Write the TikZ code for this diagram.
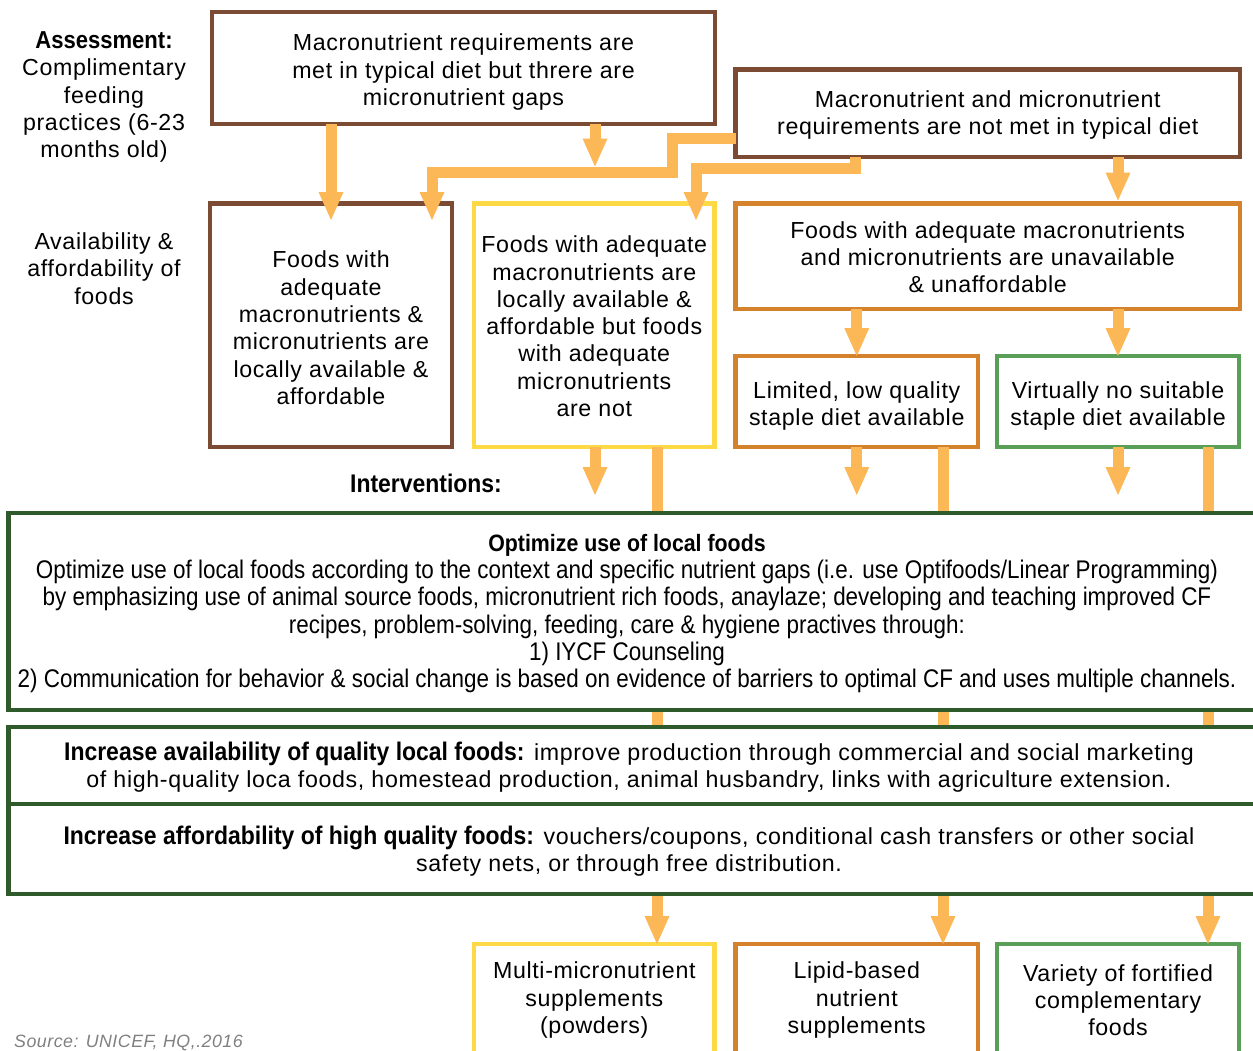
\documentclass[tikz,border=0pt]{standalone}
\usepackage{fontspec}
\setmainfont{Liberation Sans}[LetterSpace=2.8]
\newfontfamily\condf{Liberation Sans}[FakeStretch=0.88]
\newfontfamily\condb{Liberation Sans}[FakeStretch=0.9]
\usetikzlibrary{arrows.meta}
\definecolor{brn}{HTML}{7B4B33}
\definecolor{yel}{HTML}{FDDA45}
\definecolor{org}{HTML}{D5822C}
\definecolor{grn}{HTML}{5A9F58}
\definecolor{dgrn}{HTML}{2F5A2B}
\definecolor{arr}{HTML}{FCB857}
\newcommand\tstrut[1]{\rule{0pt}{#1pt}}
\begin{document}
\begin{tikzpicture}[x=1pt,y=-1pt,
  box/.style={draw, line width=4.5pt, fill=white, inner sep=0pt, outer sep=0pt,
    align=center, font=\fontsize{23.2}{27.3}\selectfont},
  ibox/.style={draw=dgrn, line width=4.5pt, fill=white, inner sep=0pt, outer sep=0pt, anchor=north west},
  lbl/.style={align=center, inner sep=0pt, font=\fontsize{23.2}{27.3}\selectfont},
  conn/.style={draw=arr, line width=11pt, -{Triangle[width=25pt,length=28pt,line width=0pt]}},
]
\useasboundingbox (0,0) rectangle (1253,1050);
% left labels
\node[lbl] (assess) at (104,97) {{\condb\bfseries\fontsize{24.5}{27.3}\selectfont Assessment:}\\Complimentary\\feeding\\practices (6-23\\months old)};
\node[lbl] (avail) at (104,268.5) {Availability \&\\affordability of\\foods};
\node[lbl, font=\condb\bfseries\fontsize{25.5}{27.3}\selectfont] (interv) at (426,483.5) {Interventions:};
% top boxes
\node[box, draw=brn, minimum width=503pt, minimum height=112pt] (A) at (463.5,68)
  {\tstrut{25}Macronutrient requirements are\\met in typical diet but threre are\\micronutrient gaps};
\node[box, draw=brn, minimum width=504.5pt, minimum height=87.5pt] (B) at (987.75,113.25)
  {\tstrut{21}Macronutrient and micronutrient\\requirements are not met in typical diet};
\node[box, draw=brn, minimum width=242pt, minimum height=243.5pt] (C) at (331,325.25)
  {\tstrut{22}Foods with\\adequate\\macronutrients \&\\micronutrients are\\locally available \&\\affordable};
\node[box, draw=yel, minimum width=240.7pt, minimum height=243.5pt] (D) at (594.3,325.25)
  {\tstrut{19}Foods with adequate\\macronutrients are\\locally available \&\\affordable but foods\\with adequate\\micronutrients\\are not};
\node[box, draw=org, minimum width=504.5pt, minimum height=105.5pt] (E) at (987.75,256.25)
  {\tstrut{19}Foods with adequate macronutrients\\and micronutrients are unavailable\\\& unaffordable};
\node[box, draw=org, minimum width=242.5pt, minimum height=91pt] (F) at (856.75,401.5)
  {\tstrut{26}Limited, low quality\\staple diet available};
\node[box, draw=grn, minimum width=242pt, minimum height=91pt] (G) at (1118,401.5)
  {\tstrut{26}Virtually no suitable\\staple diet available};
% bottom boxes
\node[box, draw=yel, minimum width=240.7pt, minimum height=112pt] (K) at (594.3,1000)
  {Multi-micronutrient\\supplements\\(powders)};
\node[box, draw=org, minimum width=242.5pt, minimum height=112pt] (L) at (856.75,1000)
  {Lipid-based\\nutrient\\supplements};
\node[box, draw=grn, minimum width=242pt, minimum height=112pt] (M) at (1118,1000)
  {Variety of fortified\\complementary\\foods};
% long connectors behind intervention boxes
\draw[conn] (D.south -| 657,0) -- (K.north -| 657,0);
\draw[conn] (F.south -| 943,0) -- (L.north -| 943,0);
\draw[conn] (G.south -| 1208,0) -- (M.north -| 1208,0);
% intervention boxes
\node[ibox, minimum width=1254pt, minimum height=197pt] (H) at (8.3,513) {};
\node[ibox, minimum width=1254pt, minimum height=77pt] (I) at (8.3,727) {};
\node[ibox, minimum width=1254pt, minimum height=90pt] (J) at (8.3,804) {};
\node[lbl, font=\condf\fontsize{25.5}{27.3}\selectfont] (Ht) at (627,613.5)
  {{\condb\bfseries\fontsize{23.7}{27.3}\selectfont Optimize use of local foods}\\
   Optimize use of local foods according to the context and specific nutrient gaps (i.e. use Optifoods/Linear Programming)\\
   by emphasizing use of animal source foods, micronutrient rich foods, anaylaze; developing and teaching improved CF\\
   recipes, problem-solving, feeding, care \& hygiene practives through:\\
   1) IYCF Counseling\\
   2) Communication for behavior \& social change is based on evidence of barriers to optimal CF and uses multiple channels.};
\node[lbl] (It) at (629,767.5)
  {{\condb\bfseries\fontsize{25.5}{27.3}\selectfont Increase availability of quality local foods:} improve production through commercial and social marketing\\
   of high-quality loca foods, homestead production, animal husbandry, links with agriculture extension.};
\node[lbl] (Jt) at (629,851)
  {{\condb\bfseries\fontsize{25.5}{27.3}\selectfont Increase affordability of high quality foods:} vouchers/coupons, conditional cash transfers or other social\\
   safety nets, or through free distribution.};
% free ends
\coordinate (j1) at (595,166.5);
\coordinate (t1) at (595,495);
\coordinate (t2) at (856.75,495);
\coordinate (t3) at (1118,495);
% connectors
\draw[conn, shorten >=-16.5pt] (A.south -| 331,0) -- (C.north -| 331,0);
\draw[conn] (A.south -| j1) -- (j1);
\draw[conn, shorten >=-16.5pt] ([yshift=-25pt]B.west) -| (672.5,172) -| (C.north -| 432,0);
\draw[conn, shorten >=-16.5pt] (B.south -| 855,0) |- (696,168.5) -- (D.north -| 696,0);
\draw[conn, shorten >=3pt] (B.south -| 1118,0) -- (E.north -| 1118,0);
\draw[conn] (E.south -| F.north) -- (F.north);
\draw[conn] (E.south -| G.north) -- (G.north);
\draw[conn] (D.south -| t1) -- (t1);
\draw[conn] (F.south -| t2) -- (t2);
\draw[conn] (G.south -| t3) -- (t3);
% source
\node[anchor=base west, inner sep=0pt, text=gray, font=\itshape\fontsize{17.8}{20}\selectfont] (src) at (14,1047) {Source: UNICEF, HQ,.2016};
\end{tikzpicture}
\end{document}
